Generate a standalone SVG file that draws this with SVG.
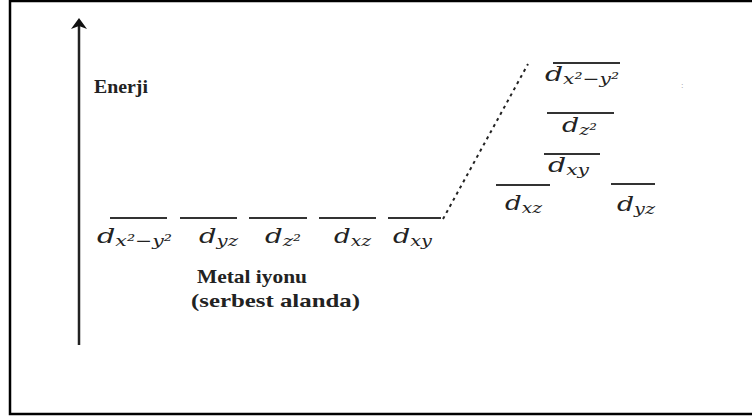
<svg xmlns="http://www.w3.org/2000/svg" width="752" height="420" viewBox="0 0 752 420">
<style>
.lvl{stroke:#333;stroke-width:2;fill:none}
.d{font-family:"DejaVu Serif","Liberation Serif",serif;font-style:italic;font-size:21px;fill:#222}
.s{font-size:15px}
.lbl{font-family:"Liberation Serif",serif;font-weight:bold;font-size:19px;fill:#222}
</style>
<rect x="10" y="1" width="760" height="413" fill="#fff" stroke="#000" stroke-width="2.5"/>
<g id="axis">
<line x1="79" y1="345" x2="79" y2="24" stroke="#222" stroke-width="2.5"/>
<path d="M79,18 L87,29 L79,26 L71,29 Z" fill="#111"/>
<text class="lbl" x="94" y="93" textLength="54" lengthAdjust="spacingAndGlyphs">Enerji</text>
</g>
<g id="free-ion">
<line class="lvl" x1="110" y1="218" x2="167" y2="218"/>
<line class="lvl" x1="180" y1="218" x2="237" y2="218"/>
<line class="lvl" x1="249" y1="218" x2="307" y2="218"/>
<line class="lvl" x1="319" y1="218" x2="376" y2="218"/>
<line class="lvl" x1="388" y1="218" x2="441" y2="218"/>
<text class="d" x="97" y="243" textLength="75" lengthAdjust="spacingAndGlyphs">d<tspan class="s" dy="3">x²−y²</tspan></text>
<text class="d" x="199" y="243" textLength="39" lengthAdjust="spacingAndGlyphs">d<tspan class="s" dy="3">yz</tspan></text>
<text class="d" x="265" y="243" textLength="36" lengthAdjust="spacingAndGlyphs">d<tspan class="s" dy="3">z²</tspan></text>
<text class="d" x="334" y="243" textLength="37" lengthAdjust="spacingAndGlyphs">d<tspan class="s" dy="3">xz</tspan></text>
<text class="d" x="393" y="243" textLength="39" lengthAdjust="spacingAndGlyphs">d<tspan class="s" dy="3">xy</tspan></text>
<text class="lbl" x="197" y="283" textLength="110" lengthAdjust="spacingAndGlyphs">Metal iyonu</text>
<text class="lbl" x="191" y="307" textLength="169" lengthAdjust="spacingAndGlyphs">(serbest alanda)</text>
</g>
<g id="connectors">
<line x1="443" y1="219" x2="528" y2="64" stroke="#222" stroke-width="2" stroke-dasharray="3,4"/>
</g>
<g id="split">
<line class="lvl" x1="553" y1="63" x2="620" y2="63"/>
<text class="d" x="545" y="81" textLength="74" lengthAdjust="spacingAndGlyphs">d<tspan class="s" dy="3">x²−y²</tspan></text>
<line class="lvl" x1="547" y1="113" x2="614" y2="113"/>
<text class="d" x="562" y="132" textLength="35" lengthAdjust="spacingAndGlyphs">d<tspan class="s" dy="3">z²</tspan></text>
<line class="lvl" x1="544" y1="154" x2="600" y2="154"/>
<text class="d" x="548" y="172" textLength="41" lengthAdjust="spacingAndGlyphs">d<tspan class="s" dy="3">xy</tspan></text>
<line class="lvl" x1="496" y1="185" x2="550" y2="185"/>
<text class="d" x="505" y="210" textLength="37" lengthAdjust="spacingAndGlyphs">d<tspan class="s" dy="3">xz</tspan></text>
<line class="lvl" x1="611" y1="184" x2="655" y2="184"/>
<text class="d" x="617" y="211" textLength="38" lengthAdjust="spacingAndGlyphs">d<tspan class="s" dy="3">yz</tspan></text>
<text x="681" y="88" font-family="Liberation Serif,serif" font-size="9" fill="#999">:</text>
</g>
</svg>
